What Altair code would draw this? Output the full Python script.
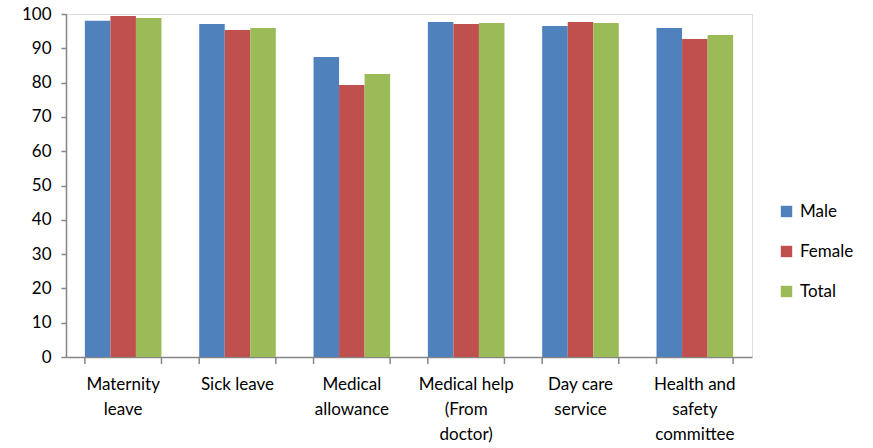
import altair as alt
import pandas as pd

# Benefits and the share (%) of respondents reporting each, by group
categories = [
    "Maternity|leave",
    "Sick leave",
    "Medical|allowance",
    "Medical help|(From|doctor)",
    "Day care|service",
    "Health and|safety|committee",
]
male = [98.0, 97.1, 87.5, 97.7, 96.5, 95.9]
female = [99.4, 95.3, 79.3, 97.1, 97.7, 92.7]
total = [98.8, 95.9, 82.5, 97.4, 97.4, 93.9]

groups = ["Male", "Female", "Total"]
colors = ["#4F81BD", "#C0504D", "#9BBB59"]

rows = []
for i, cat in enumerate(categories):
    for g, vals in zip(groups, [male, female, total]):
        rows.append({"category": cat, "group": g, "value": vals[i]})
df = pd.DataFrame(rows)

FONT = "Lato"
W, H = 686, 343

x_scale = alt.Scale(domain=categories, paddingInner=0.33, paddingOuter=0.165)

bars = alt.Chart(df).mark_bar().encode(
    x=alt.X(
        "category:N",
        sort=categories,
        scale=x_scale,
        title=None,
        axis=alt.Axis(
            labelExpr="split(datum.label, '|')",
            labelAngle=0,
            ticks=False,
            domainColor="#868686",
            domainWidth=1.5,
            labelFont=FONT,
            labelFontSize=17,
            labelColor="#000000",
            labelLineHeight=25,
            labelPadding=19,
            labelBaseline="top",
        ),
    ),
    xOffset=alt.XOffset("group:N", sort=groups, scale=alt.Scale(paddingInner=0, paddingOuter=0)),
    y=alt.Y(
        "value:Q",
        scale=alt.Scale(domain=[0, 100], nice=False),
        title=None,
        axis=alt.Axis(
            values=list(range(0, 101, 10)),
            grid=False,
            tickSize=5,
            tickColor="#868686",
            tickWidth=1.5,
            domainColor="#868686",
            domainWidth=1.5,
            labelFont=FONT,
            labelFontSize=17,
            labelColor="#000000",
            labelPadding=10,
        ),
    ),
    color=alt.Color(
        "group:N",
        sort=groups,
        scale=alt.Scale(domain=groups, range=colors),
        legend=alt.Legend(
            title=None,
            orient="none",
            legendX=712,
            legendY=189,
            symbolType="square",
            symbolSize=130,
            symbolStrokeWidth=0,
            labelFont=FONT,
            labelFontSize=17,
            labelColor="#000000",
            rowPadding=22,
            labelOffset=5,
        ),
    ),
)

# Category separator ticks on the x axis, at both edges of every band
tick_df = pd.DataFrame({"category": categories})
sep_left = alt.Chart(tick_df).mark_rule(color="#868686", strokeWidth=1.5).encode(
    x=alt.X("category:N", sort=categories, scale=x_scale, bandPosition=0),
    y=alt.value(H),
    y2=alt.value(H + 7),
)
sep_right = alt.Chart(tick_df).mark_rule(color="#868686", strokeWidth=1.5).encode(
    x=alt.X("category:N", sort=categories, scale=x_scale, bandPosition=1),
    y=alt.value(H),
    y2=alt.value(H + 7),
)

chart = (
    alt.layer(bars, sep_left, sep_right)
    .properties(
        width=W,
        height=H,
        autosize=alt.AutoSizeParams(type="none"),
        padding={"left": 66, "top": 14, "right": 121, "bottom": 91},
    )
    .configure_view(stroke=None)
    .configure(background="white")
)

chart.save("out.html", embed_options={"renderer": "svg", "actions": False})
